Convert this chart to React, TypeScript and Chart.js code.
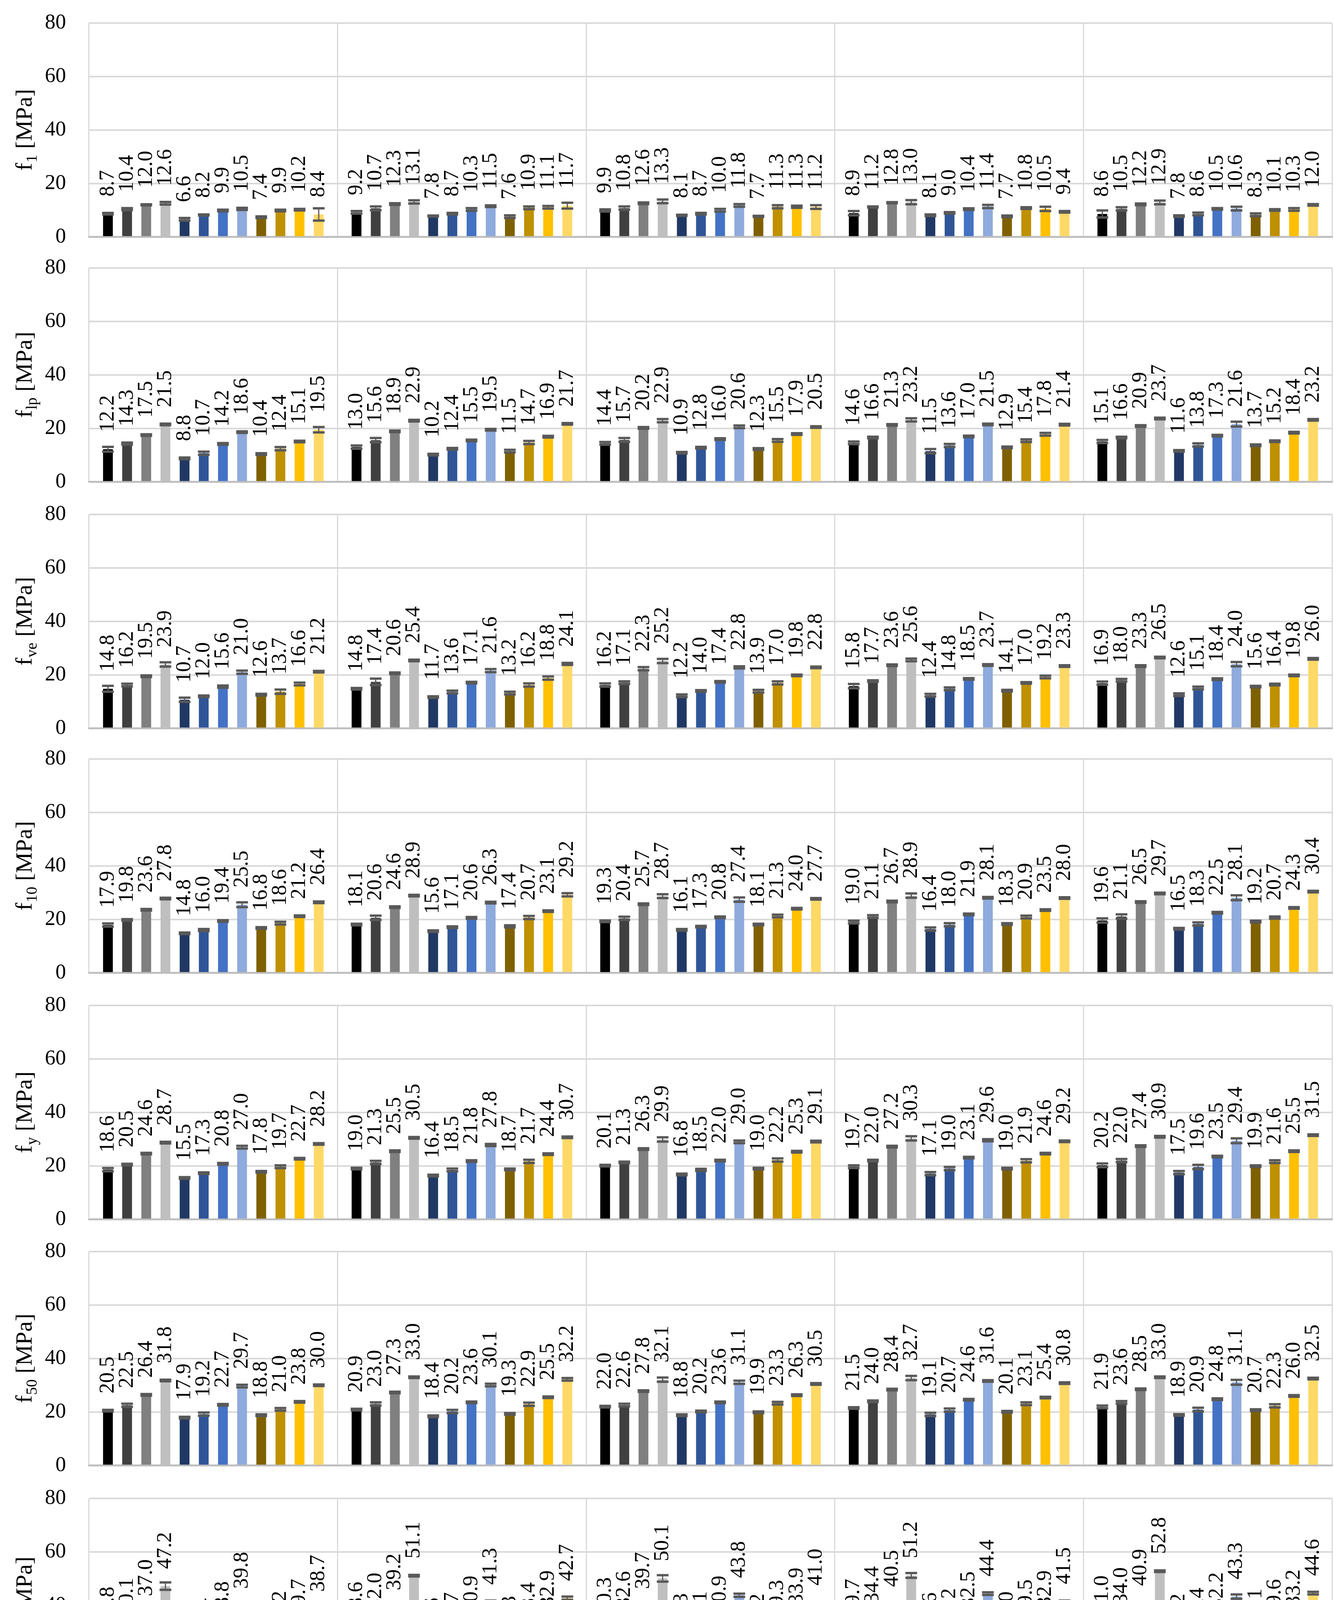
import React, { useEffect, useRef } from 'react';
import { Chart, registerables } from 'chart.js';

Chart.register(...registerables);

const FONT = '"Liberation Serif", "Times New Roman", serif';

const SPEEDS = ['10', '50', '100', '200', '500'];
const SERIES = ['I-50°C', 'I-40°C', 'I-23°C', 'I-0°C', 'II-50°C', 'II-40°C', 'II-23°C', 'II-0°C', 'III-50°C', 'III-40°C', 'III-23°C', 'III-0°C'];
const COLORS = ['#000000', '#404040', '#808080', '#bfbfbf', '#203864', '#2f5597', '#4472c4', '#8faadc', '#7f6000', '#bf9000', '#ffc000', '#ffd966'];
const Y_MIN = 0;
const Y_MAX = 80;
const Y_STEP = 20;

// rows: test speed (10, 50, 100, 200, 500); columns: series order in SERIES
const F1_MEAN = [
  [8.7, 10.4, 12.0, 12.6, 6.6, 8.2, 9.9, 10.5, 7.4, 9.9, 10.2, 8.4],
  [9.2, 10.7, 12.3, 13.1, 7.8, 8.7, 10.3, 11.5, 7.6, 10.9, 11.1, 11.7],
  [9.9, 10.8, 12.6, 13.3, 8.1, 8.7, 10.0, 11.8, 7.7, 11.3, 11.3, 11.2],
  [8.9, 11.2, 12.8, 13.0, 8.1, 9.0, 10.4, 11.4, 7.7, 10.8, 10.5, 9.4],
  [8.6, 10.5, 12.2, 12.9, 7.8, 8.6, 10.5, 10.6, 8.3, 10.1, 10.3, 12.0],
];
const F1_SD = [
  [0.3, 0.4, 0.2, 0.5, 0.5, 0.2, 0.3, 0.4, 0.3, 0.3, 0.3, 2.3],
  [0.5, 0.7, 0.3, 0.6, 0.2, 0.3, 0.5, 0.3, 0.5, 0.5, 0.5, 1.1],
  [0.4, 0.6, 0.3, 0.7, 0.2, 0.3, 0.5, 0.5, 0.2, 0.6, 0.4, 0.7],
  [0.8, 0.2, 0.2, 0.8, 0.3, 0.3, 0.3, 0.6, 0.3, 0.3, 0.8, 0.3],
  [1.3, 0.6, 0.3, 0.7, 0.3, 0.5, 0.3, 0.7, 0.5, 0.3, 0.5, 0.3],
];

const FLP_MEAN = [
  [12.2, 14.3, 17.5, 21.5, 8.8, 10.7, 14.2, 18.6, 10.4, 12.4, 15.1, 19.5],
  [13.0, 15.6, 18.9, 22.9, 10.2, 12.4, 15.5, 19.5, 11.5, 14.7, 16.9, 21.7],
  [14.4, 15.7, 20.2, 22.9, 10.9, 12.8, 16.0, 20.6, 12.3, 15.5, 17.9, 20.5],
  [14.6, 16.6, 21.3, 23.2, 11.5, 13.6, 17.0, 21.5, 12.9, 15.4, 17.8, 21.4],
  [15.1, 16.6, 20.9, 23.7, 11.6, 13.8, 17.3, 21.6, 13.7, 15.2, 18.4, 23.2],
];
const FLP_SD = [
  [0.9, 0.4, 0.3, 0.3, 0.3, 0.6, 0.3, 0.3, 0.3, 0.6, 0.3, 1.0],
  [0.6, 0.8, 0.3, 0.3, 0.3, 0.3, 0.3, 0.3, 0.5, 0.6, 0.3, 0.3],
  [0.5, 0.7, 0.3, 0.6, 0.3, 0.3, 0.3, 0.5, 0.3, 0.5, 0.3, 0.3],
  [0.5, 0.3, 0.3, 0.6, 0.8, 0.6, 0.3, 0.3, 0.3, 0.5, 0.5, 0.3],
  [0.6, 0.3, 0.3, 0.3, 0.3, 0.6, 0.3, 0.9, 0.3, 0.3, 0.3, 0.3],
];

const FVE_MEAN = [
  [14.8, 16.2, 19.5, 23.9, 10.7, 12.0, 15.6, 21.0, 12.6, 13.7, 16.6, 21.2],
  [14.8, 17.4, 20.6, 25.4, 11.7, 13.6, 17.1, 21.6, 13.2, 16.2, 18.8, 24.1],
  [16.2, 17.1, 22.3, 25.2, 12.2, 14.0, 17.4, 22.8, 13.9, 17.0, 19.8, 22.8],
  [15.8, 17.7, 23.6, 25.6, 12.4, 14.8, 18.5, 23.7, 14.1, 17.0, 19.2, 23.3],
  [16.9, 18.0, 23.3, 26.5, 12.6, 15.1, 18.4, 24.0, 15.6, 16.4, 19.8, 26.0],
];
const FVE_SD = [
  [1.1, 0.5, 0.3, 0.8, 0.8, 0.3, 0.4, 0.6, 0.3, 0.8, 0.5, 0.3],
  [0.3, 1.2, 0.3, 0.3, 0.3, 0.5, 0.3, 0.6, 0.5, 0.6, 0.6, 0.4],
  [0.6, 0.5, 0.6, 0.8, 0.5, 0.3, 0.3, 0.4, 0.5, 0.6, 0.3, 0.3],
  [0.8, 0.3, 0.3, 0.5, 0.5, 0.5, 0.3, 0.3, 0.3, 0.3, 0.5, 0.3],
  [0.6, 0.5, 0.3, 0.3, 0.5, 0.5, 0.3, 0.8, 0.3, 0.3, 0.3, 0.3],
];

const F10_MEAN = [
  [17.9, 19.8, 23.6, 27.8, 14.8, 16.0, 19.4, 25.5, 16.8, 18.6, 21.2, 26.4],
  [18.1, 20.6, 24.6, 28.9, 15.6, 17.1, 20.6, 26.3, 17.4, 20.7, 23.1, 29.2],
  [19.3, 20.4, 25.7, 28.7, 16.1, 17.3, 20.8, 27.4, 18.1, 21.3, 24.0, 27.7],
  [19.0, 21.1, 26.7, 28.9, 16.4, 18.0, 21.9, 28.1, 18.3, 20.9, 23.5, 28.0],
  [19.6, 21.1, 26.5, 29.7, 16.5, 18.3, 22.5, 28.1, 19.2, 20.7, 24.3, 30.4],
];
const F10_SD = [
  [0.6, 0.3, 0.3, 0.3, 0.3, 0.4, 0.3, 0.9, 0.3, 0.5, 0.3, 0.3],
  [0.3, 0.8, 0.3, 0.3, 0.3, 0.3, 0.3, 0.3, 0.4, 0.6, 0.3, 0.6],
  [0.3, 0.6, 0.3, 0.7, 0.3, 0.3, 0.3, 0.8, 0.3, 0.5, 0.3, 0.3],
  [0.5, 0.5, 0.3, 0.8, 0.6, 0.6, 0.3, 0.3, 0.3, 0.5, 0.3, 0.3],
  [0.8, 0.8, 0.3, 0.3, 0.3, 0.6, 0.3, 0.9, 0.3, 0.4, 0.3, 0.3],
];

const FY_MEAN = [
  [18.6, 20.5, 24.6, 28.7, 15.5, 17.3, 20.8, 27.0, 17.8, 19.7, 22.7, 28.2],
  [19.0, 21.3, 25.5, 30.5, 16.4, 18.5, 21.8, 27.8, 18.7, 21.7, 24.4, 30.7],
  [20.1, 21.3, 26.3, 29.9, 16.8, 18.5, 22.0, 29.0, 19.0, 22.2, 25.3, 29.1],
  [19.7, 22.0, 27.2, 30.3, 17.1, 19.0, 23.1, 29.6, 19.0, 21.9, 24.6, 29.2],
  [20.2, 22.0, 27.4, 30.9, 17.5, 19.6, 23.5, 29.4, 19.9, 21.6, 25.5, 31.5],
];
const FY_SD = [
  [0.6, 0.3, 0.3, 0.3, 0.3, 0.3, 0.3, 0.5, 0.3, 0.5, 0.3, 0.3],
  [0.3, 0.6, 0.3, 0.3, 0.3, 0.5, 0.3, 0.4, 0.3, 0.6, 0.3, 0.3],
  [0.3, 0.3, 0.3, 0.8, 0.3, 0.4, 0.3, 0.5, 0.3, 0.6, 0.3, 0.3],
  [0.5, 0.3, 0.3, 0.8, 0.6, 0.6, 0.3, 0.4, 0.3, 0.6, 0.3, 0.3],
  [0.7, 0.6, 0.3, 0.3, 0.6, 0.8, 0.3, 0.9, 0.3, 0.5, 0.3, 0.3],
];

const F50_MEAN = [
  [20.5, 22.5, 26.4, 31.8, 17.9, 19.2, 22.7, 29.7, 18.8, 21.0, 23.8, 30.0],
  [20.9, 23.0, 27.3, 33.0, 18.4, 20.2, 23.6, 30.1, 19.3, 22.9, 25.5, 32.2],
  [22.0, 22.6, 27.8, 32.1, 18.8, 20.2, 23.6, 31.1, 19.9, 23.3, 26.3, 30.5],
  [21.5, 24.0, 28.4, 32.7, 19.1, 20.7, 24.6, 31.6, 20.1, 23.1, 25.4, 30.8],
  [21.9, 23.6, 28.5, 33.0, 18.9, 20.9, 24.8, 31.1, 20.7, 22.3, 26.0, 32.5],
];
const F50_SD = [
  [0.3, 0.6, 0.3, 0.3, 0.3, 0.6, 0.3, 0.5, 0.3, 0.5, 0.3, 0.3],
  [0.3, 0.6, 0.3, 0.3, 0.3, 0.6, 0.3, 0.5, 0.3, 0.6, 0.3, 0.5],
  [0.3, 0.5, 0.3, 0.8, 0.3, 0.3, 0.3, 0.6, 0.3, 0.5, 0.3, 0.3],
  [0.3, 0.3, 0.3, 0.8, 0.6, 0.6, 0.3, 0.3, 0.3, 0.5, 0.3, 0.3],
  [0.5, 0.5, 0.3, 0.3, 0.3, 0.7, 0.3, 0.9, 0.3, 0.6, 0.3, 0.3],
];

const F200_MEAN = [
  [26.8, 30.1, 37.0, 47.2, 20.7, 22.4, 28.8, 39.8, 21.8, 25.2, 29.7, 38.7],
  [28.6, 32.0, 39.2, 51.1, 22.6, 24.7, 30.9, 41.3, 23.3, 28.4, 32.9, 42.7],
  [30.3, 32.6, 39.7, 50.1, 24.3, 25.1, 30.9, 43.8, 24.2, 29.3, 33.9, 41.0],
  [29.7, 34.4, 40.5, 51.2, 24.6, 26.2, 32.5, 44.4, 25.0, 29.5, 32.9, 41.5],
  [31.0, 34.0, 40.9, 52.8, 24.2, 26.4, 32.2, 43.3, 26.1, 29.6, 33.2, 44.6],
];
const F200_SD = [
  [1.1, 1.0, 0.3, 1.4, 0.4, 0.9, 0.6, 0.9, 0.4, 0.8, 0.4, 0.3],
  [0.6, 0.6, 0.3, 0.3, 1.0, 0.6, 0.3, 0.5, 0.3, 0.6, 0.3, 0.6],
  [0.6, 0.7, 0.3, 1.2, 0.3, 0.3, 0.5, 0.6, 0.3, 0.5, 0.3, 0.3],
  [0.3, 0.3, 0.6, 0.9, 1.0, 1.0, 0.3, 0.5, 0.3, 0.6, 0.3, 0.3],
  [0.8, 1.1, 0.3, 0.3, 0.8, 1.2, 0.5, 0.8, 0.3, 0.3, 0.5, 0.5],
];

const FU_MEAN = [
  [39.4, 39.9, 52.8, 56.5, 32.7, 47.6, 46.4, 59.2, 35.5, 38.6, 48.3, 49.0],
  [39.0, 46.0, 58.3, 62.0, 47.0, 46.1, 52.9, 60.9, 42.3, 48.9, 56.3, 58.9],
  [44.1, 46.2, 55.3, 58.7, 43.9, 44.5, 51.9, 67.0, 41.7, 50.6, 57.4, 58.8],
  [43.4, 46.9, 57.2, 55.3, 47.2, 47.3, 56.1, 62.3, 42.8, 48.8, 56.5, 57.0],
  [46.1, 49.3, 58.0, 55.5, 49.7, 44.4, 56.7, 64.2, 45.7, 47.9, 56.7, 54.7],
];
const FU_SD = [
  [1.5, 2.4, 3.2, 2.0, 4.0, 3.2, 3.3, 7.6, 2.9, 3.6, 3.7, 6.0],
  [4.5, 1.7, 2.8, 3.4, 2.8, 3.8, 3.7, 7.0, 2.9, 3.6, 2.2, 2.9],
  [3.0, 2.5, 2.7, 3.9, 3.2, 9.5, 3.8, 2.0, 4.0, 2.0, 4.3, 3.7],
  [2.7, 2.7, 3.6, 2.7, 4.1, 5.2, 5.0, 11.0, 2.3, 4.1, 3.5, 5.5],
  [2.5, 4.5, 3.5, 2.9, 1.8, 4.9, 3.7, 5.1, 5.8, 4.8, 2.1, 3.5],
];

const PANELS = [
  { sub: '1', mean: F1_MEAN, sd: F1_SD },
  { sub: 'lp', mean: FLP_MEAN, sd: FLP_SD },
  { sub: 've', mean: FVE_MEAN, sd: FVE_SD },
  { sub: '10', mean: F10_MEAN, sd: F10_SD },
  { sub: 'y', mean: FY_MEAN, sd: FY_SD },
  { sub: '50', mean: F50_MEAN, sd: F50_SD },
  { sub: '200', mean: F200_MEAN, sd: F200_SD },
  { sub: 'u', mean: FU_MEAN, sd: FU_SD },
];

// layout (pixels)
const W = 3416;
const ZERO_Y = [607, 1234, 1865, 2491, 3122, 3752, 4384, 5030];
const PAD_TOP = 52;
const PLOT_H = 548;

function makeErrLabelPlugin() {
  return {
    id: 'errLabels',
    afterDatasetsDraw(chart: any) {
      const ctx = chart.ctx;
      const ys = chart.scales.y;
      const dsets = chart.data.datasets;
      ctx.save();
      dsets.forEach((ds: any, s: number) => {
        const meta = chart.getDatasetMeta(s);
        meta.data.forEach((el: any, g: number) => {
          const v = ds.data[g];
          const e = ds.sd[g];
          const top = ys.getPixelForValue(v + e);
          const bot = ys.getPixelForValue(v - e);
          const x = el.x;
          const hw = 15;
          ctx.strokeStyle = '#595959';
          ctx.lineWidth = 3;
          ctx.beginPath();
          ctx.moveTo(x, top);
          ctx.lineTo(x, bot);
          ctx.stroke();
          ctx.lineWidth = 6;
          ctx.beginPath();
          ctx.moveTo(x - hw, top);
          ctx.lineTo(x + hw, top);
          ctx.moveTo(x - hw, bot);
          ctx.lineTo(x + hw, bot);
          ctx.stroke();
        });
      });
      ctx.fillStyle = '#000';
      ctx.font = `54px ${FONT}`;
      ctx.textAlign = 'left';
      ctx.textBaseline = 'middle';
      dsets.forEach((ds: any, s: number) => {
        const meta = chart.getDatasetMeta(s);
        meta.data.forEach((el: any, g: number) => {
          const v = ds.data[g];
          ctx.save();
          ctx.translate(el.x, ys.getPixelForValue(v) - 44);
          ctx.rotate(-Math.PI / 2);
          ctx.fillText(v.toFixed(1), 0, 0);
          ctx.restore();
        });
      });
      ctx.restore();
    },
  };
}

function makeYTitlePlugin(sub: string) {
  return {
    id: 'yTitle',
    afterDraw(chart: any) {
      const ctx = chart.ctx;
      const ca = chart.chartArea;
      const cy = (ca.top + ca.bottom) / 2;
      ctx.save();
      ctx.translate(81, cy);
      ctx.rotate(-Math.PI / 2);
      ctx.fillStyle = '#000';
      ctx.textAlign = 'left';
      ctx.textBaseline = 'alphabetic';
      const mainFont = `60px ${FONT}`;
      const subFont = `40px ${FONT}`;
      ctx.font = mainFont;
      const wF = ctx.measureText('f').width;
      const rest = ' [MPa]';
      const wR = ctx.measureText(rest).width;
      ctx.font = subFont;
      const wS = ctx.measureText(sub).width;
      const x0 = -(wF + wS + wR) / 2;
      ctx.font = mainFont;
      ctx.fillText('f', x0, 0);
      ctx.font = subFont;
      ctx.fillText(sub, x0 + wF + 1, 13);
      ctx.font = mainFont;
      ctx.fillText(rest, x0 + wF + wS + 1, 0);
      ctx.restore();
    },
  };
}

function Panel({ index }: { index: number }) {
  const ref = useRef<HTMLCanvasElement | null>(null);
  const last = index === PANELS.length - 1;
  const xAxisH = last ? 150 : 32;
  const h = PAD_TOP + PLOT_H + xAxisH;
  const top = ZERO_Y[index] - PLOT_H - PAD_TOP;

  useEffect(() => {
    const p = PANELS[index];
    const chart = new Chart(ref.current as HTMLCanvasElement, {
      type: 'bar',
      data: {
        labels: SPEEDS,
        datasets: SERIES.map((name, s) => ({
          label: name,
          data: p.mean.map((row) => row[s]),
          sd: p.sd.map((row) => row[s]),
          backgroundColor: COLORS[s],
          borderWidth: 0,
          categoryPercentage: 0.925,
          barPercentage: 0.51,
        })) as any,
      },
      options: {
        responsive: false,
        animation: false,
        devicePixelRatio: 1,
        layout: { padding: { top: PAD_TOP, right: 5, left: 0, bottom: 0 } },
        plugins: {
          legend: { display: false },
          tooltip: { enabled: false },
          title: { display: false },
        },
        scales: {
          x: {
            grid: {
              color: '#d9d9d9',
              lineWidth: 3,
              offset: true,
              drawTicks: last,
              tickLength: 28,
            },
            border: { display: true, color: '#bfbfbf', width: 5 },
            ticks: {
              display: last,
              color: '#000',
              font: { family: FONT, size: 54 },
              padding: 25,
            },
            afterFit: (sc: any) => {
              sc.height = xAxisH;
            },
          } as any,
          y: {
            min: Y_MIN,
            max: Y_MAX,
            ticks: {
              stepSize: Y_STEP,
              color: '#000',
              font: { family: FONT, size: 54 },
              padding: 0,
            },
            grid: { color: '#d9d9d9', lineWidth: 4, drawTicks: true, tickLength: 59, tickColor: 'rgba(0,0,0,0)' },
            border: { display: false },
            afterFit: (sc: any) => {
              sc.width = 228;
            },
          } as any,
        },
      },
      plugins: [makeErrLabelPlugin(), makeYTitlePlugin(p.sub)],
    } as any);
    return () => chart.destroy();
  }, [index]);

  return (
    <canvas
      ref={ref}
      width={W}
      height={h}
      style={{ position: 'absolute', left: 0, top, width: W, height: h }}
    />
  );
}

const LEGEND_COL_X = [756, 1100, 1447, 1793];
const LEGEND_ROW_Y = [5266, 5380, 5494];

export default function App() {
  const textStyle: React.CSSProperties = {
    fontFamily: FONT,
    color: '#000',
    whiteSpace: 'nowrap',
    lineHeight: 1,
    position: 'absolute',
  };
  return (
    <div style={{ position: 'absolute', left: 0, top: 0, width: W, height: 5560, background: '#fff', overflow: 'hidden' }}>
      {PANELS.map((_, i) => (
        <Panel key={i} index={i} />
      ))}
      <div style={{ ...textStyle, fontSize: 62, left: 1820, top: 5180, transform: 'translate(-50%, -50%)' }}>
        Test speed [mm/min]
      </div>
      {SERIES.map((name, i) => {
        const r = Math.floor(i / 4);
        const c = i % 4;
        return (
          <React.Fragment key={name}>
            <div
              style={{
                position: 'absolute',
                left: LEGEND_COL_X[c],
                top: LEGEND_ROW_Y[r] - 20,
                width: 40,
                height: 40,
                background: COLORS[i],
              }}
            />
            <div
              style={{
                ...textStyle,
                fontSize: 66,
                left: LEGEND_COL_X[c] + 58,
                top: LEGEND_ROW_Y[r] - 4,
                transform: 'translateY(-50%)',
              }}
            >
              {name}
            </div>
          </React.Fragment>
        );
      })}
      {/* error bar key */}
      <div style={{ position: 'absolute', left: 2318, top: 5371, width: 38, height: 122, background: '#808080' }} />
      <div style={{ position: 'absolute', left: 2336, top: 5273, width: 3, height: 192, background: '#000' }} />
      <div style={{ position: 'absolute', left: 2317, top: 5270, width: 42, height: 6, background: '#000' }} />
      <div style={{ position: 'absolute', left: 2317, top: 5462, width: 42, height: 6, background: '#000' }} />
      {[5273, 5371, 5465].map((y) => (
        <div key={y} style={{ position: 'absolute', left: 2392, top: y - 3, width: 100, height: 6, background: '#000' }} />
      ))}
      <div style={{ ...textStyle, fontSize: 66, left: 2525, top: 5284, transform: 'translateY(-50%)' }}>μ + s</div>
      <div style={{ ...textStyle, fontSize: 66, left: 2525, top: 5382, transform: 'translateY(-50%)' }}>μ</div>
      <div style={{ ...textStyle, fontSize: 66, left: 2525, top: 5476, transform: 'translateY(-50%)' }}>μ − s</div>
    </div>
  );
}
